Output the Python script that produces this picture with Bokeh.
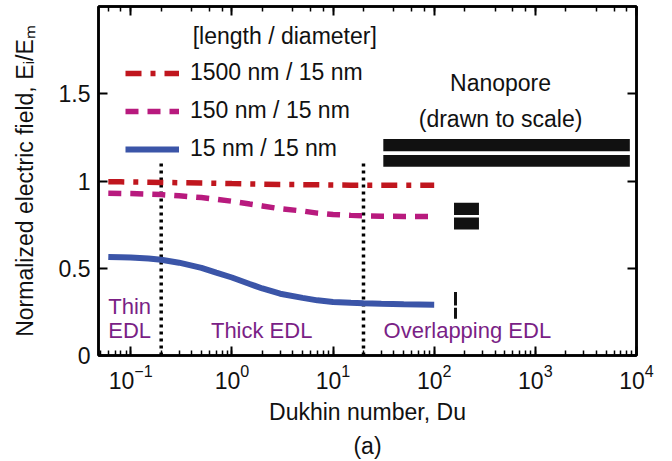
from bokeh.plotting import figure
from bokeh.models import (LogAxis, LinearAxis, Range1d, FixedTicker, NumeralTickFormatter,
                          Legend, LegendItem, Label, Title)
from bokeh.embed import file_html
from bokeh.resources import INLINE

# ---- data ----
du = [0.06, 0.08, 0.1, 0.15, 0.2, 0.3, 0.5, 0.7, 1, 1.5, 2, 3, 5, 7, 10, 15, 20, 30, 50, 100]
e_1500 = [0.995, 0.995, 0.994, 0.993, 0.992, 0.990, 0.988, 0.987, 0.985, 0.983, 0.982,
          0.980, 0.979, 0.978, 0.977, 0.976, 0.976, 0.976, 0.976, 0.976]
e_150 = [0.930, 0.929, 0.928, 0.925, 0.922, 0.915, 0.905, 0.895, 0.884, 0.868, 0.857,
         0.841, 0.828, 0.816, 0.808, 0.803, 0.800, 0.798, 0.797, 0.797]
e_15 = [0.565, 0.563, 0.561, 0.556, 0.549, 0.532, 0.502, 0.475, 0.447, 0.410, 0.384,
        0.354, 0.330, 0.316, 0.307, 0.302, 0.299, 0.296, 0.293, 0.291]
series_labels = ["1500 nm / 15 nm", "150 nm / 15 nm", "15 nm / 15 nm"]
regime_bounds = [0.2, 20]
y_ticks = [0, 0.5, 1, 1.5]

FONT = "Liberation Sans"
RED = "#c0161e"
MAG = "#b81a7e"
BLUE = "#3b55a8"
PURPLE = "#7a1f86"

p = figure(width=672, height=461, x_axis_type="log", output_backend="svg",
           toolbar_location=None, x_range=Range1d(0.048, 1.0e4), y_range=Range1d(0, 2),
           min_border_left=98, min_border_right=36, min_border_top=6, min_border_bottom=106)
p.grid.visible = False
p.outline_line_color = "black"
p.outline_line_width = 2.5
p.background_fill_color = "white"
p.border_fill_color = "white"


def style_axis(ax, labels=True):
    ax.axis_line_color = "black"
    ax.axis_line_width = 2.5
    ax.major_tick_in = 9
    ax.major_tick_out = 0
    ax.major_tick_line_width = 2
    ax.minor_tick_in = 5
    ax.minor_tick_out = 0
    ax.minor_tick_line_width = 1.5
    ax.major_label_text_font = FONT
    ax.major_label_text_color = "#111111"
    ax.axis_label_text_font = FONT
    ax.axis_label_text_font_style = "normal"
    ax.axis_label_text_font_size = "23px"
    ax.axis_label_text_color = "#111111"
    if labels:
        ax.major_label_text_font_size = "23px"
    else:
        ax.major_label_text_font_size = "1px"
        ax.major_label_text_color = None
        ax.major_label_standoff = 0


xa = p.xaxis[0]
style_axis(xa)
xa.axis_label = "Dukhin number, Du"
xa.major_label_standoff = 8
xa.axis_label_standoff = 7

ya = p.yaxis[0]
style_axis(ya)
ya.ticker = FixedTicker(ticks=y_ticks)
ya.formatter = NumeralTickFormatter(format="0.[0]")
ya.minor_tick_line_color = None
ya.axis_label = "Normalized electric field, Eᵢ/Eₘ"
ya.major_label_standoff = 8
ya.axis_label_standoff = 18

top = LogAxis()
style_axis(top, labels=False)
p.add_layout(top, "above")
right = LinearAxis(ticker=FixedTicker(ticks=y_ticks))
style_axis(right, labels=False)
right.minor_tick_line_color = None
p.add_layout(right, "right")

p.add_layout(Title(text="(a)", align="center", text_font=FONT, text_font_size="23px",
                   text_font_style="normal", text_color="#111111", standoff=6), "below")

# regime boundaries
for b in regime_bounds:
    p.segment(x0=[b], y0=[0], x1=[b], y1=[1.1], line_color="black", line_width=3.5,
              line_dash="3 4")

# curves
r1 = p.line(du, e_1500, line_color=RED, line_width=5.5, line_dash="16 9 5 9")
r2 = p.line(du, e_150, line_color=MAG, line_width=5.5, line_dash="13 9")
r3 = p.line(du, e_15, line_color=BLUE, line_width=6)

legend = Legend(items=[LegendItem(label=series_labels[0], renderers=[r1]),
                       LegendItem(label=series_labels[1], renderers=[r2]),
                       LegendItem(label=series_labels[2], renderers=[r3])],
                location=(27, 193), glyph_width=54, glyph_height=26, label_standoff=11,
                spacing=11, padding=0, margin=0, border_line_color=None,
                background_fill_alpha=0, label_text_font=FONT, label_text_font_size="23px",
                label_text_color="#111111")
p.add_layout(legend)

p.add_layout(Label(x=0.41, y=1.83, text="[length / diameter]", text_font=FONT,
                   text_font_size="23px", text_baseline="middle", text_color="#111111"))

# nanopore schematics (drawn to scale)
p.quad(left=[31.4, 31.4], right=[8590, 8590], bottom=[1.170, 1.082], top=[1.241, 1.149],
       fill_color="#111111", line_color=None)
p.quad(left=[157, 157], right=[277, 277], bottom=[0.805, 0.722], top=[0.875, 0.791],
       fill_color="#111111", line_color=None)
p.quad(left=[157, 157], right=[168, 168], bottom=[0.287, 0.211], top=[0.364, 0.274],
       fill_color="#111111", line_color=None)
p.add_layout(Label(x=453, y=1.56, text="Nanopore", text_font=FONT, text_font_size="23px",
                   text_align="center", text_baseline="middle", text_color="#111111"))
p.add_layout(Label(x=453, y=1.355, text="(drawn to scale)", text_font=FONT,
                   text_font_size="23px", text_align="center", text_baseline="middle",
                   text_color="#111111"))

# regime labels
for (x, y, t, al) in [(0.06, 0.278, "Thin", "left"), (0.06, 0.144, "EDL", "left"),
                      (1.97, 0.144, "Thick EDL", "center"),
                      (31.6, 0.144, "Overlapping EDL", "left")]:
    p.add_layout(Label(x=x, y=y, text=t, text_font=FONT, text_font_size="22px",
                       text_align=al, text_baseline="middle", text_color=PURPLE))

open("out.html", "w").write(file_html(p, INLINE))
